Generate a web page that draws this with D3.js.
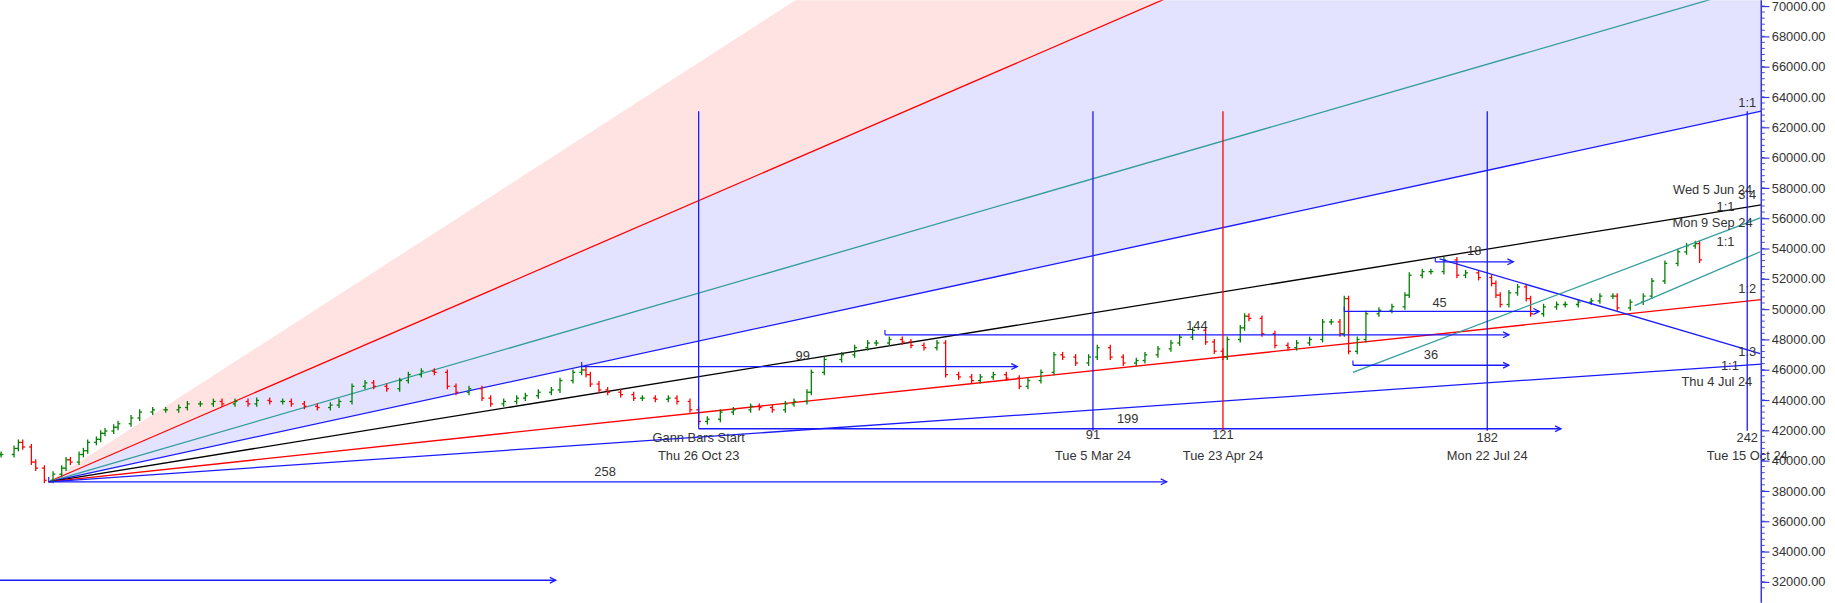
<!DOCTYPE html>
<html><head><meta charset="utf-8">
<script src="https://cdn.jsdelivr.net/npm/d3@7"></script>
<style>html,body{margin:0;padding:0;background:#fff;overflow:hidden}</style>
</head><body>
<svg id="c" width="1835" height="603" viewBox="0 0 1568 515"></svg>
<script>
// ---- data ----
const bars = [-161,-158,-157,-156,-154,-153,-151,-149,-147,-146,-145,-143,-142,-141,-139,-138,-137,-135,-134,-131,-129,-126,-123,-120,-118,-115,-112,-110,-107,-104,-102,-99,-96,-94,-91,-88,-85,-83,-80,-77,-75,-72,-69,-67,-64,-61,-58,-56,-53,-50,-48,-45,-42,-40,-37,-34,-32,-29,-27,-26,-25,-23,-21,-18,-15,-13,-10,-7,-5,-2,0,2,5,8,12,14,17,20,22,25,26,29,33,36,39,41,44,47,49,52,55,57,60,63,65,68,71,74,76,79,82,84,87,90,92,95,98,101,103,106,109,111,114,117,119,121,122,125,126,127,130,133,136,138,141,144,146,148,149,150,152,154,157,160,163,164,167,169,172,175,177,180,183,184,185,187,189,191,192,195,198,200,203,206,208,211,212,215,218,220,223,226,228,230,231];
const closes = [40400,40800,41200,40900,39900,39500,38700,39100,39500,40050,39900,40400,40650,41200,41400,41800,41950,42200,42430,42810,43200,43350,43350,43500,43740,43740,43900,43740,43900,43740,43970,43900,43900,43740,43580,43500,43660,43900,44900,45130,44900,44740,45280,45670,45900,45820,44900,44510,44740,44120,43740,43900,44120,44280,44510,44660,45280,45820,45980,45670,45050,44660,44510,44350,44120,44120,44050,44120,43900,43350,42580,42730,43200,43350,43580,43500,43350,43740,43900,44510,45820,46670,46980,47450,47760,47760,47990,47830,47600,47450,47760,45670,45520,45280,45520,45670,45440,44900,45280,45820,46980,46830,46440,46830,47450,46830,46440,46600,46980,47370,47760,48140,48600,47830,47220,46830,47990,48760,49530,49380,48370,47600,47450,47760,47990,49150,49150,48370,50690,47210,47990,49690,49920,50150,50920,52230,52470,52470,53240,52230,52390,52080,51690,50920,50300,51070,51460,50690,49690,50150,50300,50300,50460,50540,50850,50850,50080,50460,50850,51850,53010,53780,54170,54320,53240];
const yTicks = d3.range(32000, 70001, 2000);
const fanOrigin = {bar:-150, price:38600};
const fanSlopes = [123.7, 83.0, 61.9, 46.25, 30.4, 19.66];
const fanColors = ["#ff0000","#339c9c","#1a1aff","#000000","#ff0000","#1a1aff"];
const pinkSlope = 184.4;
const hArrows = [
 [-150,108,38600,"258",-21.6,39180],
 [-162,-33,32100,"",0,0],
 [0,199,42100,"199",99,42735],
 [-27,73.5,46200,"99",24,46830],
 [43,187,48300,"144",115,48836],
 [149,194,49840,"45",171,50380],
 [151,187,46290,"36",169,46904],
 [170,188,53115,"18",179,53780]
];
const vBars = [0,91,121,182,242];
const vColors = ["#1a1aff","#1a1aff","#ff0000","#1a1aff","#1a1aff"];
const vNums = ["Gann Bars Start","91","121","182","242"];
const vDates = ["Thu 26 Oct 23","Tue 5 Mar 24","Tue 23 Apr 24","Mon 22 Jul 24","Tue 15 Oct 24"];
const segs = [
 [171,53316,245,47060,"#1a1aff"],
 [151,45824,245,56020,"#339c9c"],
 [216,50226,245,53780,"#339c9c"]
];
const rLabels = [
 ["1:1",242,63590],["Wed 5 Jun 24",234,57796],["3:4",242,57487],["1:1",237,56714],
 ["Mon 9 Sep 24",234,55633],["1:1",237,54397],["1:2",242,51307],["1:3",242,47136],
 ["1:1",238,46210],["Thu 4 Jul 24",235,45129]
];

// ---- scales ----
const x = d3.scaleLinear().domain([0,242]).range([597,1493]);
const y = d3.scaleLinear().domain([32000,70000]).range([497,5]);
const svg = d3.select("#c");
const endBar = x.invert(1505);
svg.append("defs").append("clipPath").attr("id","pc").append("rect")
  .attr("x",0).attr("y",0).attr("width",1505).attr("height",515);
const g = svg.append("g").attr("clip-path","url(#pc)");
const tg = svg.append("g");
const fx = (s,b)=>fanOrigin.price + s*(b-fanOrigin.bar);

g.append("path").attr("fill","#ffe3e3").attr("d",
  `M${x(fanOrigin.bar)},${y(fanOrigin.price)}L${x(endBar)},${y(fx(pinkSlope,endBar))}L${x(endBar)},${y(fx(fanSlopes[0],endBar))}Z`);
g.append("path").attr("fill","#e3e3ff").attr("d",
  `M${x(fanOrigin.bar)},${y(fanOrigin.price)}L${x(endBar)},${y(fx(fanSlopes[0],endBar))}L${x(endBar)},${y(fx(fanSlopes[2],endBar))}Z`);

fanSlopes.forEach((s,i)=>{
  g.append("line").attr("x1",x(fanOrigin.bar)).attr("y1",y(fanOrigin.price))
   .attr("x2",x(endBar)).attr("y2",y(fx(s,endBar))).attr("stroke",fanColors[i]).attr("stroke-width",1.1);
});

const bw = 2;
bars.forEach((b,i)=>{
  const c = closes[i], o = i>0?closes[i-1]:c;
  const col = c>=o?"#008000":"#ff0000";
  const xx = x(b);
  g.append("line").attr("x1",xx).attr("x2",xx).attr("y1",y(Math.max(o,c))-2.5).attr("y2",y(Math.min(o,c))+2.5).attr("stroke",col).attr("stroke-width",1.1);
  g.append("line").attr("x1",xx-bw).attr("x2",xx).attr("y1",y(o)).attr("y2",y(o)).attr("stroke",col).attr("stroke-width",1.1);
  g.append("line").attr("x1",xx).attr("x2",xx+bw).attr("y1",y(c)).attr("y2",y(c)).attr("stroke",col).attr("stroke-width",1.1);
});

segs.forEach(s=>{
  g.append("line").attr("x1",x(s[0])).attr("y1",y(s[1])).attr("x2",x(s[2])).attr("y2",y(s[3])).attr("stroke",s[4]).attr("stroke-width",1.1);
});

const txt = (t,bx,py)=>tg.append("text").attr("x",x(bx)).attr("y",y(py)).attr("text-anchor","middle")
  .attr("dominant-baseline","middle").attr("font-family","Liberation Sans, Arial, sans-serif")
  .attr("font-size",11).attr("fill","#333").text(t);

hArrows.forEach(a=>{
  const x2 = x(a[1]), yy = y(a[2]);
  g.append("line").attr("x1",x(a[0])).attr("x2",x2).attr("y1",yy).attr("y2",yy).attr("stroke","#1a1aff").attr("stroke-width",1.1);
  g.append("path").attr("d",`M${x2-5},${yy-2.5}L${x2},${yy}L${x2-5},${yy+2.5}`).attr("fill","none").attr("stroke","#1a1aff").attr("stroke-width",1.1);
  g.append("line").attr("x1",x(a[0])).attr("x2",x(a[0])).attr("y1",yy).attr("y2",yy-4).attr("stroke","#1a1aff").attr("stroke-width",1);
  if(a[3]) txt(a[3],a[4],a[5]);
});

vBars.forEach((b,i)=>{
  g.append("line").attr("x1",x(b)).attr("x2",x(b)).attr("y1",y(63048)).attr("y2",y(i==0?42400:41962)).attr("stroke",vColors[i]).attr("stroke-width",1.1);
  txt(vNums[i],b,i==0?41420:(i<3?41650:41420));
  txt(vDates[i],b,40262);
});
rLabels.forEach(l=>txt(l[0],l[1],l[2]));

const ax = svg.append("g").attr("transform","translate(1505,0)");
ax.append("line").attr("x1",0).attr("x2",0).attr("y1",0).attr("y2",515).attr("stroke","#3a3ad0").attr("stroke-width",1.3);
d3.range(31600,70400,400).forEach(v=>{
  ax.append("line").attr("x1",0).attr("x2",3).attr("y1",y(v)).attr("y2",y(v)).attr("stroke","#3a3ad0").attr("stroke-width",0.8);
});
const axis = d3.axisRight(y).tickValues(yTicks).tickFormat(d=>d.toFixed(2)).tickSize(7).tickPadding(2);
const ag = ax.append("g").call(axis);
ag.select(".domain").remove();
ag.selectAll(".tick line").attr("stroke","#3a3ad0");
ag.selectAll(".tick text").attr("font-family","Liberation Sans, Arial, sans-serif").attr("font-size",11).attr("fill","#333");
</script>
</body></html>
